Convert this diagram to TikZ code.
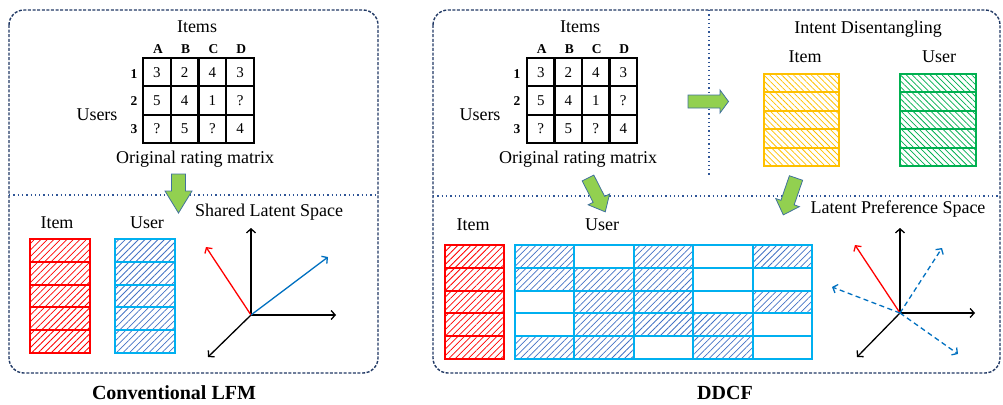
\documentclass[tikz,border=0pt]{standalone}
\usepackage{fontspec}
\setmainfont{Liberation Serif}
\usetikzlibrary{patterns.meta,arrows.meta}

\definecolor{navy}{HTML}{203864}
\definecolor{divblue}{HTML}{2F5597}
\definecolor{arrowgreen}{HTML}{92D050}
\definecolor{arrowedge}{HTML}{41719C}
\definecolor{cyanedge}{HTML}{00B0F0}
\definecolor{hatchblue}{HTML}{4472C4}
\definecolor{amber}{HTML}{FFC000}
\definecolor{leafgreen}{HTML}{00B050}
\definecolor{vecblue}{HTML}{0070C0}

% block arrow: start point, direction, shaft length, shaft half width, head length, head half width
\newcommand\blockarrow[7]{%
  \begin{scope}[shift={(#1,#2)},rotate=#3]
    \draw[fatarrow] (0,-#5) -- (#4,-#5) -- (#4,-#7) -- ({#4+#6},0) -- (#4,#7) -- (#4,#5) -- (0,#5) -- cycle;
  \end{scope}}

\begin{document}
\begin{tikzpicture}[x=1pt,y=-1pt,
  lbl/.style={font=\fontsize{18}{20}\selectfont, inner sep=0},
  caption/.style={font=\fontsize{20}{22}\selectfont\bfseries, inner sep=0},
  colhead/.style={font=\fontsize{13.5}{15}\selectfont\bfseries, inner sep=0},
  cell/.style={draw, line width=2.2pt, minimum width=27.6pt, minimum height=28.3pt, inner sep=0, font=\fontsize{15}{17}\selectfont},
  panel/.style={draw=navy, line width=1.4pt, dash pattern=on 3pt off 1.6pt, rounded corners=15pt},
  divider/.style={draw=divblue, line width=1.4pt, dash pattern=on 1.3pt off 3pt},
  fatarrow/.style={fill=arrowgreen, draw=arrowedge, line width=0.8pt, line join=miter},
  hatchne/.style={pattern={Lines[angle=45,distance=4.6pt,line width=0.75pt]}},
  hatchnw/.style={pattern={Lines[angle=-45,distance=4.2pt,line width=0.75pt]}},
  redrow/.style={draw=red, line width=2pt, hatchne, pattern color=red, minimum height=22.8pt, inner sep=0},
  bluerow/.style={draw=cyanedge, line width=2pt, hatchne, pattern color=hatchblue, minimum height=22.8pt, inner sep=0},
  blankrow/.style={draw=cyanedge, line width=2pt, minimum height=22.8pt, inner sep=0},
  amberrow/.style={draw=amber, line width=2pt, hatchnw, pattern color=amber, minimum width=75pt, minimum height=18.4pt, inner sep=0},
  greenrow/.style={draw=leafgreen, line width=2pt, hatchnw, pattern color=leafgreen, minimum width=76pt, minimum height=18.4pt, inner sep=0},
  axis/.style={line width=1.3pt, -{Straight Barb[length=4pt,width=9pt,line width=1.3pt]}},
]
\useasboundingbox (0,0) rectangle (1003,404);

% ---------- panels and dividers ----------
\draw[panel] (9,10) rectangle (378,373);
\draw[panel] (433,10) rectangle (1000,373);
\draw[divider] (9,195) -- (378,195);
\draw[divider] (433,196) -- (1000,196);
\draw[divider] (709,10) -- (709,177);

% ---------- rating matrices ----------
\foreach \side/\xo/\w/\lx/\ux/\ix in {L/143/27.75/134/97/197, R/527/27.5/517/480/580} {
  \foreach \r/\vals in {1/{3,2,4,3}, 2/{5,4,1,?}, 3/{?,5,?,4}} {
    \foreach \v [count=\c] in \vals {
      \node[cell, minimum width=\w pt] (\side-\r-\c) at ({\xo+\w*(\c-0.5)},{58+28.33*(\r-0.5)}) {\v};
    }
    \node[colhead] (\side-row-\r) at (\lx,{74+27.5*(\r-1)}) {\r};
  }
  \foreach \l [count=\c] in {A,B,C,D} {
    \node[colhead] (\side-col-\c) at ({\xo+\w*(\c-0.5)+1},49) {\l};
  }
  \node[lbl] (\side-items) at (\ix,27) {Items};
  \node[lbl] (\side-users) at (\ux,115) {Users};
  \node[lbl] (\side-orig) at ({\ix-2},159) {Original rating matrix};
}

% ---------- conventional LFM: factor stacks ----------
\node[lbl] (litem) at (57,223) {Item};
\node[lbl] (luser) at (147,223) {User};
\node[lbl] (lspace) at (269,212) {Shared Latent Space};
\foreach \i in {0,...,4} {
  \node[redrow, minimum width=60pt] (li-\i) at (60,{250.4+22.8*\i}) {};
  \node[bluerow, minimum width=60pt] (lu-\i) at (145,{250.4+22.8*\i}) {};
}

% shared latent space axes
\coordinate (lo) at (251,315);
\coordinate (lup) at (251,228);
\coordinate (lright) at (336,315);
\coordinate (ldown) at (208,357);
\coordinate (lred) at (206,247);
\coordinate (lblue) at (328,257);
\draw[axis] (lo) -- (lup);
\draw[axis] (lo) -- (lright);
\draw[axis] (lo) -- (ldown);
\draw[axis, red] (lo) -- (lred);
\draw[axis, vecblue] (lo) -- (lblue);

\node[caption] (lcap) at (174,393) {Conventional LFM};

% ---------- DDCF: intent disentangling ----------
\node[lbl] (intent) at (868,29) {Intent Disentangling};
\node[lbl] (ditem) at (805,57) {Item};
\node[lbl] (duser) at (939,57) {User};
\foreach \i in {0,...,4} {
  \node[amberrow] (di-\i) at (801.5,{83.2+18.4*\i}) {};
  \node[greenrow] (du-\i) at (938,{83.2+18.4*\i}) {};
}

% ---------- DDCF: latent preference space ----------
\node[lbl] (ritem) at (473,225) {Item};
\node[lbl] (ruser) at (602,225) {User};
\node[lbl] (rspace) at (898,209) {Latent Preference Space};
\foreach \i in {0,...,4} {
  \node[redrow, minimum width=59pt] (ri-\i) at (474.5,{256.4+22.8*\i}) {};
}
\foreach \r/\c in {1/1,1/3,1/5,2/1,2/2,2/3,3/2,3/3,3/5,4/2,4/3,4/4,5/1,5/2,5/4} {
  \node[bluerow, minimum width=59.4pt] (ru-\r-\c) at ({515+59.4*(\c-0.5)},{245+22.8*(\r-0.5)}) {};
}
\foreach \r/\c in {1/2,1/4,2/4,2/5,3/1,3/4,4/1,4/5,5/3,5/5} {
  \node[blankrow, minimum width=59.4pt] (ru-\r-\c) at ({515+59.4*(\c-0.5)},{245+22.8*(\r-0.5)}) {};
}

\coordinate (ro) at (900,313);
\coordinate (rup) at (900,228);
\coordinate (rright) at (975,313);
\coordinate (rdown) at (857,357);
\coordinate (rred) at (855,245);
\coordinate (rb1) at (942,248);
\coordinate (rb2) at (832,287);
\coordinate (rb3) at (958,354);
\draw[axis] (ro) -- (rup);
\draw[axis] (ro) -- (rright);
\draw[axis] (ro) -- (rdown);
\draw[axis, red] (ro) -- (rred);
\foreach \e in {rb1,rb2,rb3} {
  \draw[axis, vecblue, dash pattern=on 5pt off 3.5pt] (ro) -- (\e);
}

\node[caption] (rcap) at (725,393) {DDCF};

% ---------- flow arrows ----------
\blockarrow{178.5}{174}{-90}{17}{7}{22}{13.5}
\blockarrow{688}{101.5}{0}{32}{6.5}{8.5}{11.5}
\blockarrow{588}{178}{-63}{24}{6.5}{14}{12}
\blockarrow{796}{178}{-109}{26}{7}{13}{12.5}

\end{tikzpicture}
\end{document}
